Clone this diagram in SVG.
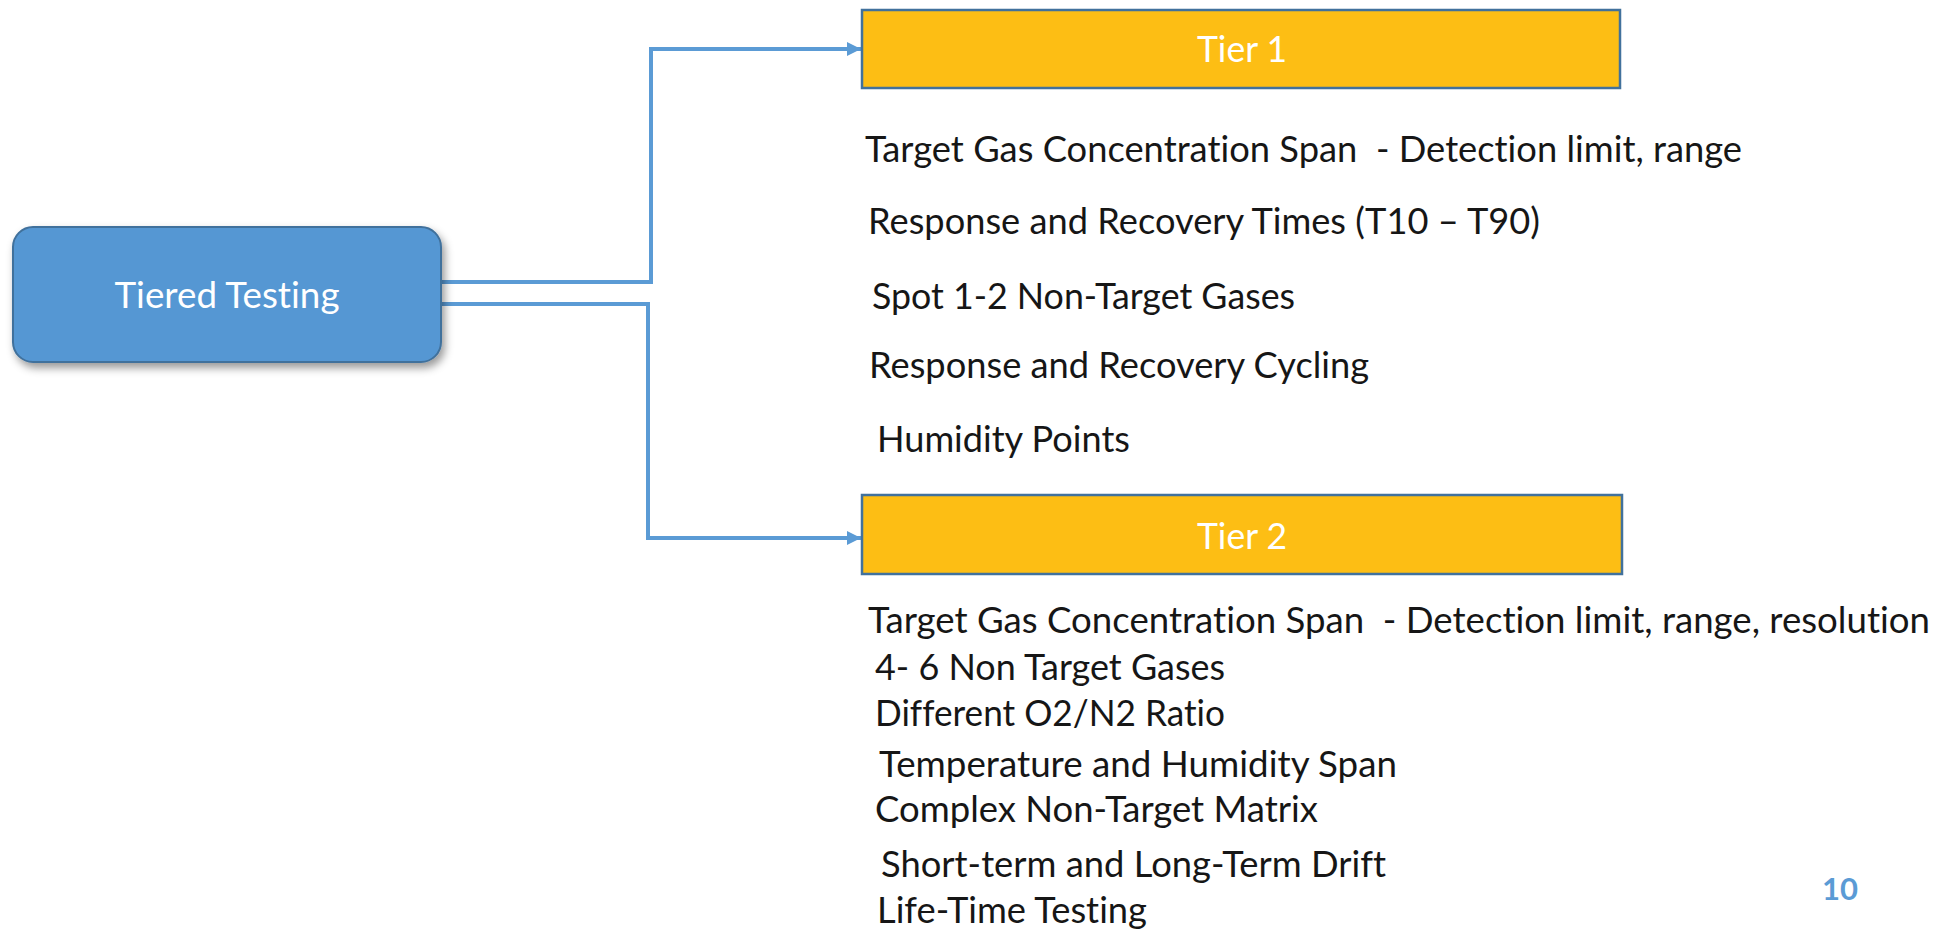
<svg xmlns="http://www.w3.org/2000/svg" width="1954" height="931" viewBox="0 0 1954 931">
<defs>
<filter id="shadow" x="-10%" y="-20%" width="125%" height="150%">
<feDropShadow dx="3" dy="5" stdDeviation="4" flood-color="#000" flood-opacity="0.4"/>
</filter>
<marker id="arrow" viewBox="0 0 14 14" refX="14" refY="7" markerWidth="14" markerHeight="14" markerUnits="userSpaceOnUse" orient="auto">
<path d="M0,0 L14,7 L0,14 Z" fill="#5B9BD5"/>
</marker>
<style>
text{font-variant-ligatures:none;font-feature-settings:"liga" 0}
.lbl{font-family:Lato,"Open Sans","Liberation Sans",sans-serif;font-size:37px;fill:#ffffff}
.item{font-family:Lato,"Open Sans","Liberation Sans",sans-serif;font-size:36.5px;fill:#161616}
.tier{fill:#FDBE14;stroke:#41719C;stroke-width:2.5}
.conn{fill:none;stroke:#5B9BD5;stroke-width:4}
.pg{font-family:Lato,"Open Sans","Liberation Sans",sans-serif;font-size:31px;font-weight:bold;fill:#5B9BD5}
</style>
</defs>
<rect width="1954" height="931" fill="#ffffff"/>
<g id="connectors">
<path class="conn" d="M441 282 H651 V49 H861" marker-end="url(#arrow)"/>
<path class="conn" d="M441 304 H648 V538 H861" marker-end="url(#arrow)"/>
</g>
<g id="tiered-testing">
<rect x="13" y="227" width="428" height="135" rx="20" ry="20" fill="#5597D3" stroke="#41719C" stroke-width="2" filter="url(#shadow)"/>
<text class="lbl" x="227" y="308" text-anchor="middle" textLength="225" lengthAdjust="spacingAndGlyphs">Tiered Testing</text>
</g>
<g id="tier1">
<rect class="tier" x="862" y="10" width="758" height="78"/>
<text class="lbl" x="1242" y="62" text-anchor="middle" textLength="90" lengthAdjust="spacingAndGlyphs">Tier 1</text>
</g>
<g id="tier1-items">
<text class="item" x="865" y="162" textLength="877" lengthAdjust="spacingAndGlyphs" xml:space="preserve">Target Gas Concentration Span  - Detection limit, range</text>
<text class="item" x="868" y="234" textLength="672" lengthAdjust="spacingAndGlyphs">Response and Recovery Times (T10 – T90)</text>
<text class="item" x="872" y="309" textLength="423" lengthAdjust="spacingAndGlyphs">Spot 1-2 Non-Target Gases</text>
<text class="item" x="869" y="378" textLength="500" lengthAdjust="spacingAndGlyphs">Response and Recovery Cycling</text>
<text class="item" x="877" y="452" textLength="253" lengthAdjust="spacingAndGlyphs">Humidity Points</text>
</g>
<g id="tier2">
<rect class="tier" x="862" y="495" width="760" height="79"/>
<text class="lbl" x="1242" y="549" text-anchor="middle" textLength="90" lengthAdjust="spacingAndGlyphs">Tier 2</text>
</g>
<g id="tier2-items">
<text class="item" x="868" y="633" textLength="1062" lengthAdjust="spacingAndGlyphs" xml:space="preserve">Target Gas Concentration Span  - Detection limit, range, resolution</text>
<text class="item" x="875" y="680" textLength="350" lengthAdjust="spacingAndGlyphs">4- 6 Non Target Gases</text>
<text class="item" x="875" y="726" textLength="350" lengthAdjust="spacingAndGlyphs">Different O2/N2 Ratio</text>
<text class="item" x="879" y="777" textLength="518" lengthAdjust="spacingAndGlyphs">Temperature and Humidity Span</text>
<text class="item" x="875" y="822" textLength="443" lengthAdjust="spacingAndGlyphs">Complex Non-Target Matrix</text>
<text class="item" x="881" y="877" textLength="505" lengthAdjust="spacingAndGlyphs">Short-term and Long-Term Drift</text>
<text class="item" x="877" y="923" textLength="270" lengthAdjust="spacingAndGlyphs">Life-Time Testing</text>
</g>
<g id="page-number">
<text class="pg" x="1822" y="900">10</text>
</g>
</svg>
